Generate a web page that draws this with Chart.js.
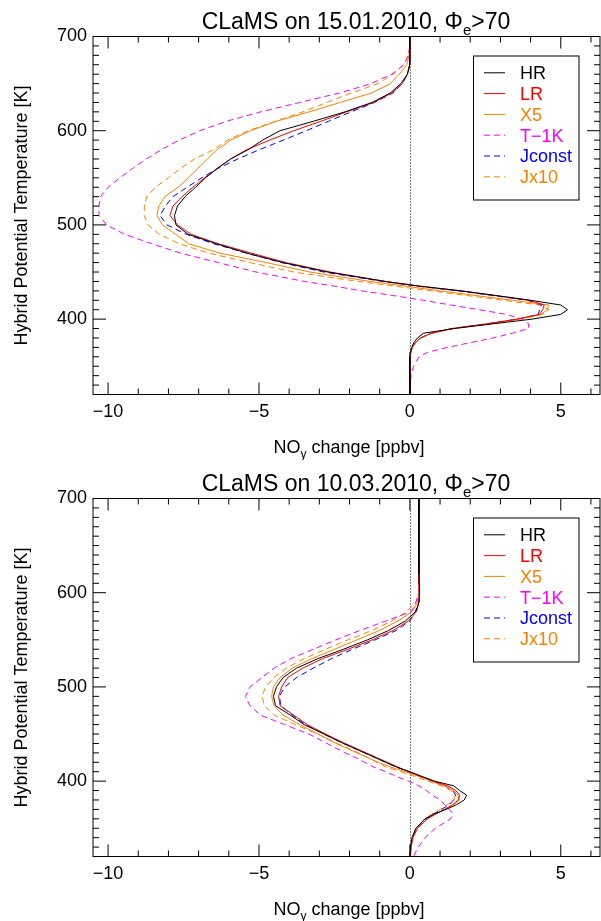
<!DOCTYPE html>
<html>
<head>
<meta charset="utf-8">
<script src="https://cdn.jsdelivr.net/npm/chart.js@4.4.1/dist/chart.umd.min.js"></script>
<style>
  body { margin: 0; background: #fff; }
  canvas { display: block; }
</style>
</head>
<body>
<canvas id="janChart" width="601" height="460"></canvas>
<canvas id="marChart" width="601" height="461"></canvas>
<script>
// hybrid potential temperature levels [K], shared by every profile
const theta = [700, 690, 680, 670, 660, 650, 640, 630, 620, 610,
  600, 590, 580, 570, 560, 550, 540, 530, 520, 510,
  500, 490, 480, 470, 460, 450, 440,
  435, 430, 425, 420, 415, 410, 405, 400, 395,
  390, 385, 380, 375, 370, 365, 360,
  350, 340, 330, 320];

const seriesNames = ["HR", "LR", "X5", "T\u22121K", "Jconst", "Jx10"];
const xTicks = [-10, -5, 0, 5];
const yTicks = [400, 500, 600, 700];

// 15.01.2010 NOy change [ppbv]
const janHR = [0, 0, 0, -0.02, -0.08, -0.3, -0.65, -1.25, -2.15, -3.2,
  -4.3, -4.88, -5.35, -5.94, -6.38, -6.77, -7.1, -7.45, -7.7, -7.8,
  -7.75, -7.35, -6.41, -5.4, -4.2, -2.72, -0.82,
  0.3, 1.7, 2.87, 4.0, 5.0, 5.22, 5.0, 4.05, 2.75,
  1.45, 0.45, 0.25, 0.13, 0.06, 0.02, 0,
  0, 0, 0, 0];
const janLR = [0, 0, 0, -0.02, -0.08, -0.25, -0.6, -1.2, -2.1, -2.95,
  -3.85, -4.65, -5.4, -5.94, -6.38, -6.8, -7.19, -7.55, -7.85, -7.95,
  -7.7, -7.25, -6.35, -5.25, -4.1, -2.65, -0.8,
  0.35, 1.7, 2.85, 3.95, 4.45, 4.4, 4.3, 3.55, 2.55,
  1.4, 0.7, 0.35, 0.18, 0.08, 0.03, 0.01,
  0, 0, 0, 0];
const janX5 = [0, 0, -0.03, -0.1, -0.35, -0.65, -1.27, -2.31, -3.34, -4.43,
  -5.28, -5.94, -6.39, -6.71, -7.03, -7.34, -7.68, -8.12, -8.32, -8.38,
  -8.2, -7.76, -7.33, -6.3, -4.75, -3.32, -1.32,
  -0.14, 1.0, 2.2, 3.4, 4.6, 4.55, 4.35, 3.6, 2.65,
  1.45, 0.72, 0.36, 0.18, 0.08, 0.03, 0.01,
  0, 0, 0, 0];
const janT1K = [0, 0, -0.05, -0.2, -0.6, -1.28, -2.33, -3.65, -4.95, -6.08,
  -6.96, -7.65, -8.23, -8.73, -9.19, -9.61, -10.0, -10.25, -10.3, -10.3,
  -10.05, -9.45, -8.55, -7.6, -6.35, -5.1, -3.5,
  -2.5, -1.6, -0.55, 0.45, 1.35, 2.3, 3.2, 3.72, 3.94,
  3.93, 3.4, 2.75, 2.0, 1.25, 0.6, 0.3,
  0.12, 0.04, 0.01, 0];
const janJconst = [0, 0, 0, 0, -0.08, -0.25, -0.56, -1.17, -1.95, -2.7,
  -3.43, -4.2, -4.98, -5.7, -6.36, -6.9, -7.38, -7.85, -8.1, -8.28,
  -8.05, -7.4, -6.5, -5.4, -4.25, -2.85, -0.9,
  0.25, 1.6, 2.75, 3.9, 4.35, 4.3, 4.25, 3.55, 2.55,
  1.4, 0.7, 0.35, 0.18, 0.08, 0.03, 0.01,
  0, 0, 0, 0];
const janJx10 = [0, 0, -0.05, -0.2, -0.55, -1.05, -1.95, -2.75, -3.55, -4.45,
  -5.36, -6.05, -6.5, -7.14, -7.6, -8.0, -8.43, -8.72, -8.8, -8.8,
  -8.68, -8.3, -7.65, -6.65, -5.3, -3.85, -1.7,
  -0.5, 0.7, 1.9, 3.1, 4.3, 4.6, 4.4, 3.6, 2.65,
  1.45, 0.72, 0.36, 0.18, 0.08, 0.03, 0.01,
  0, 0, 0, 0];

// 10.03.2010 NOy change [ppbv]
const marHR = [0.3, 0.3, 0.3, 0.3, 0.3, 0.3, 0.3, 0.3, 0.3, 0.31,
  0.32, 0.3, 0.2, -0.15, -0.7, -1.4, -2.2, -3.05, -3.75, -4.2,
  -4.42, -4.52, -4.45, -3.96, -3.5, -2.85, -2.2,
  -1.85, -1.5, -1.15, -0.8, -0.45, 0, 0.4, 0.82, 1.45,
  1.65, 1.88, 1.8, 1.55, 1.2, 0.8, 0.5,
  0.2, 0.07, 0.02, 0];
const marLR = [0.3, 0.3, 0.3, 0.3, 0.3, 0.3, 0.3, 0.3, 0.3, 0.3,
  0.31, 0.3, 0.22, -0.05, -0.55, -1.25, -2.05, -2.9, -3.55, -4.05,
  -4.25, -4.35, -4.3, -3.85, -3.4, -2.8, -2.15,
  -1.8, -1.45, -1.1, -0.75, -0.4, -0.05, 0.35, 0.78, 1.25,
  1.52, 1.65, 1.6, 1.42, 1.15, 0.85, 0.58,
  0.25, 0.1, 0.04, 0.02];
const marX5 = [0.3, 0.3, 0.3, 0.3, 0.3, 0.3, 0.3, 0.3, 0.3, 0.3,
  0.31, 0.25, 0.08, -0.4, -1.0, -1.75, -2.5, -3.25, -3.9, -4.3,
  -4.52, -4.58, -4.5, -4.2, -3.65, -3.05, -2.45,
  -2.1, -1.75, -1.4, -1.05, -0.65, -0.15, 0.3, 0.72, 1.15,
  1.45, 1.6, 1.65, 1.45, 1.15, 0.85, 0.58,
  0.25, 0.1, 0.04, 0.02];
const marT1K = [0.3, 0.3, 0.3, 0.3, 0.3, 0.3, 0.3, 0.3, 0.3, 0.3,
  0.3, 0.2, 0.05, -0.8, -1.65, -2.45, -3.2, -3.95, -4.5, -4.9,
  -5.3, -5.45, -5.3, -4.95, -4.15, -3.35, -2.75,
  -2.45, -2.15, -1.8, -1.5, -1.2, -0.8, -0.45, -0.05, 0.3,
  0.55, 0.75, 1.0, 1.15, 1.3, 1.43, 1.35,
  0.85, 0.5, 0.28, 0.12];
const marJconst = [0.3, 0.3, 0.3, 0.3, 0.3, 0.3, 0.3, 0.3, 0.3, 0.3,
  0.31, 0.3, 0.18, 0, -0.45, -1.15, -1.9, -2.6, -3.2, -3.75,
  -4.15, -4.32, -4.28, -3.9, -3.45, -2.85, -2.2,
  -1.85, -1.5, -1.15, -0.8, -0.45, -0.05, 0.35, 0.72, 1.15,
  1.42, 1.52, 1.45, 1.3, 1.05, 0.78, 0.52,
  0.22, 0.08, 0.03, 0.01];
const marJx10 = [0.3, 0.3, 0.3, 0.3, 0.3, 0.3, 0.3, 0.3, 0.3, 0.3,
  0.3, 0.2, -0.1, -0.6, -1.25, -2.05, -2.8, -3.5, -4.1, -4.5,
  -4.78, -4.9, -4.82, -4.5, -3.8, -3.05, -2.4,
  -2.05, -1.7, -1.4, -1.1, -0.78, -0.3, 0.15, 0.6, 1.05,
  1.35, 1.5, 1.45, 1.25, 1.0, 0.72, 0.5,
  0.2, 0.08, 0.03, 0.01];

const FONT = '"Liberation Sans", Arial, Helvetica, sans-serif';
Chart.defaults.font.family = FONT;
Chart.defaults.color = "#000";

const lineStyles = [
  { color: "#000000", dash: [] },
  { color: "#ff0000", dash: [] },
  { color: "#ff8000", dash: [] },
  { color: "#ff00ff", dash: [6, 4] },
  { color: "#0000ff", dash: [6, 4] },
  { color: "#ff8000", dash: [6, 4] },
];

function drawRich(ctx, parts, x, y, size) {
  const subSize = Math.round(size * 0.65);
  let total = 0;
  for (const p of parts) {
    ctx.font = `${p.sub ? subSize : size}px ${FONT}`;
    total += ctx.measureText(p.t).width;
  }
  let cx = x - total / 2;
  ctx.textAlign = "left";
  ctx.textBaseline = "alphabetic";
  for (const p of parts) {
    ctx.font = `${p.sub ? subSize : size}px ${FONT}`;
    ctx.fillText(p.t, cx, p.sub ? y + size * 0.28 : y);
    cx += ctx.measureText(p.t).width;
  }
}

function seg(ctx, x1, y1, x2, y2) {
  ctx.beginPath();
  ctx.moveTo(x1, y1);
  ctx.lineTo(x2, y2);
  ctx.stroke();
}

const framePlugin = {
  id: "frame",
  beforeDatasetsDraw(chart) {
    const { ctx, chartArea: a, scales } = chart;
    const x0 = Math.round(scales.x.getPixelForValue(0)) + 0.5;
    ctx.save();
    ctx.strokeStyle = "#000";
    ctx.lineWidth = 1;
    ctx.setLineDash([1, 2]);
    seg(ctx, x0, a.bottom, x0, a.top);
    ctx.restore();
  },
  afterDatasetsDraw(chart, args, opts) {
    const { ctx, chartArea: a, scales } = chart;
    ctx.save();
    ctx.strokeStyle = "#000";
    ctx.fillStyle = "#000";
    ctx.lineWidth = 1;
    ctx.strokeRect(a.left, a.top, a.right - a.left, a.bottom - a.top);

    // tick marks inside the box on all four sides
    for (let v = -10; v <= 6; v++) {
      const px = scales.x.getPixelForValue(v);
      const len = v % 5 === 0 ? 12 : 6;
      seg(ctx, px, a.bottom, px, a.bottom - len);
      seg(ctx, px, a.top, px, a.top + len);
    }
    for (let t = 320; t <= 700; t += 10) {
      const py = scales.y.getPixelForValue(t);
      const len = t % 100 === 0 ? 13 : 6;
      seg(ctx, a.left, py, a.left + len, py);
      seg(ctx, a.right, py, a.right - len, py);
    }

    // legend
    const lx = a.right - 126.5;
    ctx.strokeRect(lx, a.top + 19.5, 105.5, 144);
    ctx.font = `18px ${FONT}`;
    ctx.textAlign = "left";
    ctx.textBaseline = "alphabetic";
    seriesNames.forEach((name, i) => {
      const ry = a.top + 36.3 + i * 20.8;
      ctx.strokeStyle = lineStyles[i].color;
      ctx.setLineDash(lineStyles[i].dash);
      seg(ctx, lx + 10.5, ry, lx + 31.5, ry);
      ctx.setLineDash([]);
      ctx.fillStyle = lineStyles[i].color;
      ctx.fillText(name, lx + 46.5, ry + 6.4);
    });

    // titles
    ctx.fillStyle = "#000";
    drawRich(ctx, opts.title, 356, a.top - 8, 23);
    drawRich(ctx, [{ t: "NO" }, { t: "y", sub: true }, { t: " change [ppbv]" }],
      a.left + 256, a.bottom + 58.5, 18);
    ctx.save();
    ctx.translate(26.5, (a.top + a.bottom) / 2);
    ctx.rotate(-Math.PI / 2);
    ctx.font = `18px ${FONT}`;
    ctx.textAlign = "center";
    ctx.fillText("Hybrid Potential Temperature [K]", 0, 0);
    ctx.restore();
    ctx.restore();
  },
};

function makeChart(id, titleParts, series, padTop, xAxisHeight) {
  const datasets = series.map((vals, i) => ({
    label: seriesNames[i],
    data: theta.map((t, k) => ({ x: vals[k], y: t })),
    showLine: true,
    borderColor: lineStyles[i].color,
    borderDash: lineStyles[i].dash,
    borderWidth: 1,
    pointRadius: 0,
    tension: 0,
    fill: false,
  }));

  return new Chart(document.getElementById(id), {
    type: "scatter",
    data: { datasets },
    plugins: [framePlugin],
    options: {
      responsive: false,
      animation: false,
      layout: { padding: { top: padTop, right: 1, left: 0, bottom: 0 } },
      plugins: {
        legend: { display: false },
        tooltip: { enabled: false },
        frame: { title: titleParts },
      },
      scales: {
        x: {
          type: "linear",
          min: -10.5,
          max: 6.3,
          grid: { display: false, drawTicks: false },
          border: { display: false },
          afterBuildTicks: (s) => { s.ticks = xTicks.map((v) => ({ value: v })); },
          afterFit: (s) => { s.height = xAxisHeight; },
          ticks: {
            font: { size: 18 },
            padding: 7,
            maxRotation: 0,
            callback: (v) => String(v).replace("-", "\u2212"),
          },
        },
        y: {
          type: "linear",
          min: 320,
          max: 700,
          grid: { display: false, drawTicks: false },
          border: { display: false },
          afterBuildTicks: (s) => { s.ticks = yTicks.map((v) => ({ value: v })); },
          afterFit: (s) => { s.width = 93; },
          ticks: { font: { size: 18 }, padding: 6 },
        },
      },
    },
  });
}

makeChart("janChart",
  [{ t: "CLaMS on 15.01.2010, " }, { t: "\u03a6" }, { t: "e", sub: true }, { t: ">70" }],
  [janHR, janLR, janX5, janT1K, janJconst, janJx10], 36.5, 65.5);

makeChart("marChart",
  [{ t: "CLaMS on 10.03.2010, " }, { t: "\u03a6" }, { t: "e", sub: true }, { t: ">70" }],
  [marHR, marLR, marX5, marT1K, marJconst, marJx10], 38.5, 64.5);
</script>
</body>
</html>
